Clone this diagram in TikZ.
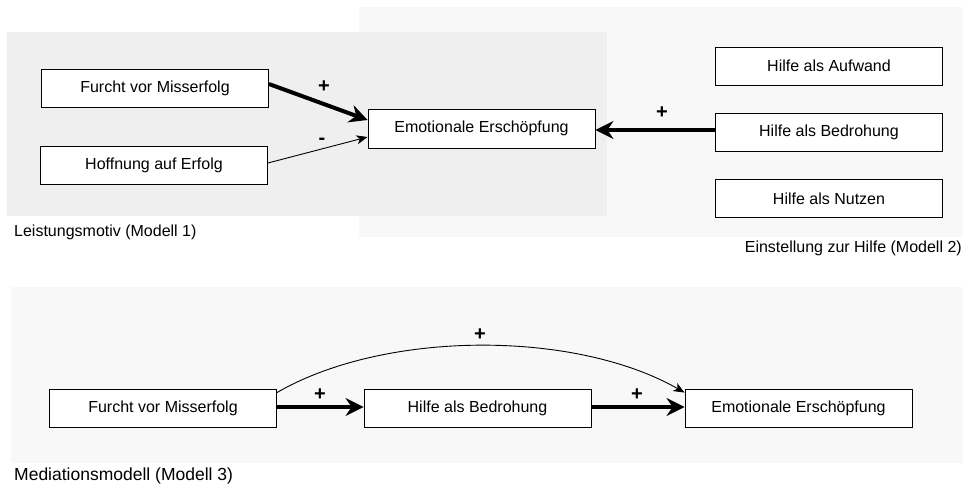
\documentclass[tikz,border=0pt]{standalone}
\usepackage{fontspec}
\setmainfont{Liberation Sans}
\usetikzlibrary{arrows.meta}
\definecolor{bgdark}{HTML}{EFEFEF}
\definecolor{bglight}{HTML}{F8F8F8}
\begin{document}
\begin{tikzpicture}[x=1pt,y=-1pt,
  box/.style={draw=black, fill=white, line width=0.9pt, minimum width=227pt, minimum height=38pt, inner sep=0pt, font=\fontsize{16}{18}\selectfont},
  thickarrow/.style={line width=4pt, -{Stealth[length=18pt,width=18pt,inset=6pt]}},
  thinarrow/.style={line width=0.9pt, -{Stealth[length=11pt,width=9pt,inset=3pt]}},
  sign/.style={font=\fontsize{20}{22}\selectfont\bfseries, inner sep=0pt},
  caption/.style={font=\fontsize{16}{18}\selectfont, inner sep=0pt}]
\useasboundingbox (0,0) rectangle (963,484);
% backgrounds
\fill[bglight] (359,7) rectangle (963,237);
\fill[bgdark] (7,32) rectangle (607,216);
\fill[bglight] (11,287) rectangle (963,463);
% Model 1 & 2
\node[box] (furcht) at (155,88) {Furcht vor Misserfolg};
\node[box] (hoff) at (154,165.5) {Hoffnung auf Erfolg};
\node[box, minimum height=39pt] (emo) at (481.5,128.5) {Emotionale Erschöpfung};
\node[box] (aufw) at (829,66) {Hilfe als Aufwand};
\node[box] (bedr) at (829,132.5) {Hilfe als Bedrohung};
\node[box] (nutz) at (829,198.5) {Hilfe als Nutzen};
\draw[thickarrow] ([yshift=4pt]furcht.east) -- ([yshift=8.5pt]emo.west);
\draw[thinarrow] ([yshift=2.5pt]hoff.east) -- ([yshift=-8.5pt]emo.west);
\draw[thickarrow] ([yshift=2.5pt]bedr.west) -- ([yshift=-1.5pt]emo.east);
\node[sign] (s1) at (324,87) {+};
\node[sign] (s2) at (322,141) {-};
\node[sign] (s3) at (662,113) {+};
\node[caption, anchor=west] (cap1) at (14,232) {Leistungsmotiv (Modell 1)};
\node[caption, anchor=east] (cap2) at (962,248) {Einstellung zur Hilfe (Modell 2)};
% Model 3
\node[box] (furcht3) at (163,408) {Furcht vor Misserfolg};
\node[box] (bedr3) at (477.5,408) {Hilfe als Bedrohung};
\node[box] (emo3) at (798.5,408) {Emotionale Erschöpfung};
\draw[thickarrow] ([yshift=1pt]furcht3.east) -- ([yshift=1pt]bedr3.west);
\draw[thickarrow] ([yshift=1pt]bedr3.east) -- ([yshift=1pt]emo3.west);
\draw[thinarrow] ([yshift=-4pt]furcht3.north east) .. controls (385,330) and (575,330) .. ([yshift=-4pt]emo3.north west);
\node[sign] (s4) at (320,395) {+};
\node[sign] (s5) at (637,395) {+};
\node[sign] (s6) at (480,335) {+};
\node[caption, font=\fontsize{17.5}{19}\selectfont, anchor=base west] (cap3) at (14,480.5) {Mediationsmodell (Modell 3)};
\end{tikzpicture}
\end{document}
